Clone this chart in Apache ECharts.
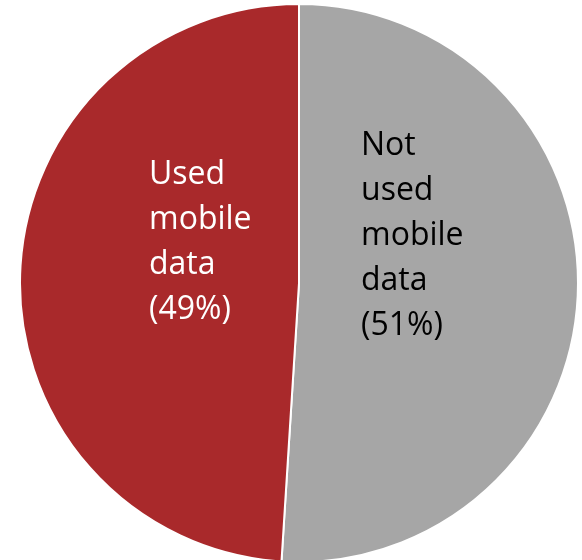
<!DOCTYPE html>
<html>
<head>
<meta charset="utf-8">
<script src="https://cdn.jsdelivr.net/npm/echarts@6/dist/echarts.min.js"></script>
<style>
html,body{margin:0;padding:0;background:#fff;}
#chart{width:582px;height:560px;}
</style>
</head>
<body>
<div id="chart"></div>
<script>
// Share of respondents by mobile data use
const categories = ['Not used mobile data', 'Used mobile data'];
const shares = [51, 49];
const sliceColors = ['#A6A6A6', '#A9292B'];
const labelColors = ['#000000', '#FFFFFF'];
// Where each label block sits (top-left corner, px)
const labelSpots = [[361, 123], [149, 152]];

const chart = echarts.init(document.getElementById('chart'), null, { renderer: 'canvas' });

chart.setOption({
  backgroundColor: '#ffffff',
  animation: false,
  series: [{
    type: 'pie',
    center: [299, 283],
    radius: [0, 279],
    startAngle: 90,
    clockwise: true,
    itemStyle: { borderColor: '#ffffff', borderWidth: 2 },
    label: {
      show: true,
      position: 'inside',
      fontFamily: '"Open Sans", sans-serif',
      fontSize: 32,
      lineHeight: 45,
      align: 'left',
      // one word per line, then the share in brackets
      formatter: p => p.name.split(' ').join('\n') + '\n(' + p.value + '%)'
    },
    labelLine: { show: false },
    labelLayout: p => ({
      x: labelSpots[p.dataIndex][0],
      y: labelSpots[p.dataIndex][1],
      align: 'left',
      verticalAlign: 'top'
    }),
    emphasis: { disabled: true },
    data: categories.map((name, i) => ({
      name,
      value: shares[i],
      itemStyle: { color: sliceColors[i] },
      label: { color: labelColors[i] }
    }))
  }]
});
</script>
</body>
</html>
